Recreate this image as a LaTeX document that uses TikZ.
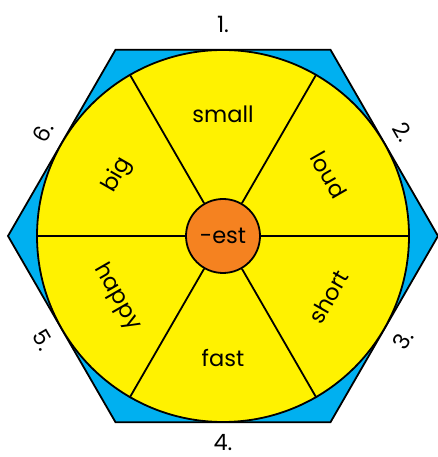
\documentclass[tikz,border=0pt]{standalone}
\usepackage{fontspec}
\setmainfont{Poppins}
\usepackage{tikz}
\usetikzlibrary{positioning,calc,shapes.geometric}

\definecolor{hexblue}{RGB}{0,176,240}
\definecolor{wheelyellow}{RGB}{255,242,0}
\definecolor{huborange}{RGB}{245,130,32}

\begin{document}
\begin{tikzpicture}[x=1pt, y=1pt,
  word/.style={font=\fontsize{22.5}{26}\selectfont, inner sep=0pt},
  spoke/.style={line width=1.8pt}]
\useasboundingbox (0,0) rectangle (438,457);
\coordinate (c) at (223,221);
\node[regular polygon, regular polygon sides=6, minimum size=430pt, inner sep=0pt,
  draw, line width=1.8pt, fill=hexblue] (hex) at (c) {};
\node[circle, minimum size=372pt, inner sep=0pt, draw, line width=1.8pt,
  fill=wheelyellow] (wheel) at (c) {};
\node[circle, minimum size=74pt, inner sep=0pt, draw, line width=1.8pt,
  fill=huborange, word] (hub) at (c) {-est};
\foreach \a in {0,60,...,300} {
  \draw[spoke] (hub.\a) -- (wheel.\a);
}
% words in the six wedges
\foreach \a/\r/\t in {90/0/small, 30/-60/loud, -30/60/short, -90/0/fast, 210/-60/happy, 150/60/big} {
  \node[word, rotate=\r] (\t) at ($(c)+(\a:122)$) {\t};
}
% numbers round the hexagon
\foreach \a/\r/\n/\d in {90/0/1/212, 30/-60/2/208, -30/60/3/208, -90/0/4/207, 210/-60/5/208, 150/60/6/208} {
  \node[word, rotate=\r] (n\n) at ($(c)+(\a:\d)$) {\n.};
}
\end{tikzpicture}
\end{document}
